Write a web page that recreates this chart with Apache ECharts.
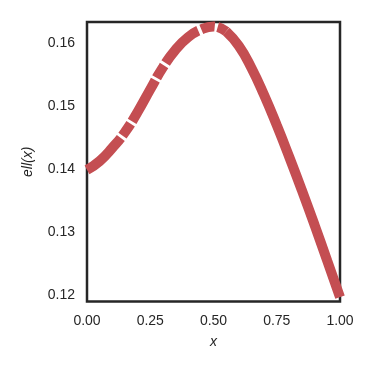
<!DOCTYPE html>
<html>
<head>
<meta charset="utf-8">
<script src="https://cdn.jsdelivr.net/npm/echarts@6/dist/echarts.min.js"></script>
<style>
  html, body { margin: 0; padding: 0; background: #fff; }
  #chart { width: 373px; height: 373px; }
</style>
</head>
<body>
<div id="chart"></div>
<script>
// values
const xs = [0, 0.05, 0.10, 0.15, 0.20, 0.25, 0.30, 0.35, 0.40, 0.45, 0.50, 0.55,
            0.60, 0.65, 0.70, 0.75, 0.80, 0.85, 0.90, 0.95, 1.00]
const ys = [0.1399, 0.1413, 0.1434, 0.1459, 0.1491, 0.1527, 0.1562, 0.1590, 0.1610, 0.1622, 0.1627, 0.1619,
            0.1596, 0.1561, 0.1518, 0.1470, 0.1419, 0.1366, 0.1311, 0.1254, 0.1197]
const xTicks = [0, 0.25, 0.5, 0.75, 1]
const splitAt = 11 // right of the peak the thick dashes overlap into a solid band

const pts = xs.map((x, i) => [x, ys[i]])
const red = '#C44E52'
const textColor = '#262626'
const font = 'Liberation Sans, Arial, sans-serif'

const chart = echarts.init(document.getElementById('chart'))
chart.setOption({
  animation: false,
  grid: {
    left: 87, right: 33, top: 22, bottom: 71.5,
    show: true, borderColor: '#262626', borderWidth: 2.5, backgroundColor: 'transparent'
  },
  xAxis: {
    type: 'value', min: xTicks[0], max: xTicks[xTicks.length - 1], interval: 0.25,
    name: 'x', nameLocation: 'middle', nameGap: 34,
    nameTextStyle: { fontStyle: 'italic', fontSize: 14, color: textColor, fontFamily: font },
    axisLine: { show: false }, axisTick: { show: false }, splitLine: { show: false },
    axisLabel: { margin: 13, fontSize: 14, color: textColor, fontFamily: font, formatter: v => v.toFixed(2) }
  },
  yAxis: {
    type: 'value', min: 0.119, max: 0.1634, splitNumber: 5,
    name: 'ell(x)', nameLocation: 'middle', nameGap: 52, nameRotate: 90,
    nameTextStyle: { fontStyle: 'italic', fontSize: 14, color: textColor, fontFamily: font },
    axisLine: { show: false }, axisTick: { show: false }, splitLine: { show: false },
    axisLabel: {
      margin: 12, fontSize: 14, color: textColor, fontFamily: font,
      showMinLabel: false, showMaxLabel: false, formatter: v => v.toFixed(2)
    }
  },
  series: [
    {
      type: 'line', data: pts.slice(0, splitAt + 1), showSymbol: false, smooth: true,
      lineStyle: { color: red, width: 10, type: [47, 3, 14, 3], cap: 'butt' }
    },
    {
      type: 'line', data: pts.slice(splitAt), showSymbol: false, smooth: true,
      lineStyle: { color: red, width: 10, cap: 'butt' }
    }
  ]
})
</script>
</body>
</html>
